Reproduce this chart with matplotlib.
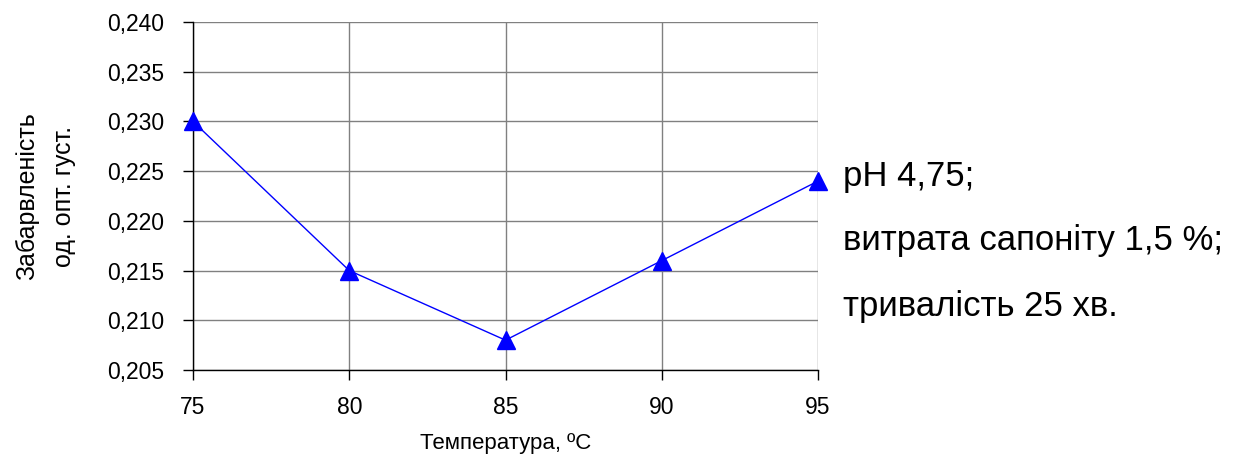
import matplotlib.pyplot as plt
from matplotlib.ticker import FuncFormatter

# дані
temperatura = [75, 80, 85, 90, 95]
zabarvlenist = [0.230, 0.215, 0.208, 0.216, 0.224]
umovy = ["pH 4,75;", "витрата сапоніту 1,5 %;", "тривалість 25 хв."]

plt.rcParams['font.family'] = ['Liberation Sans', 'DejaVu Sans']

fig = plt.figure(figsize=(12.53, 4.66), dpi=100)
ax = fig.add_axes([193/1253, 96/466, 625/1253, 348/466])

ax.plot(temperatura, zabarvlenist, color="blue", linewidth=1,
        marker="^", markersize=13, clip_on=False, zorder=5)

ax.set_xlim(75, 95)
ax.set_ylim(0.205, 0.240)
ax.set_xticks([75, 80, 85, 90, 95])
ax.set_yticks([0.205, 0.210, 0.215, 0.220, 0.225, 0.230, 0.235, 0.240])
ax.yaxis.set_major_formatter(FuncFormatter(lambda v, p: f"{v:.3f}".replace(".", ",")))

# сітка
ax.grid(color="#808080", linewidth=1)
ax.set_axisbelow(True)
for s in ["top", "right"]:
    ax.spines[s].set_visible(False)
for s in ["left", "bottom"]:
    ax.spines[s].set_color("black")
    ax.spines[s].set_linewidth(1)
ax.tick_params(axis="both", direction="out", length=7, width=1, labelsize=16.5)
ax.tick_params(axis="y", pad=14)
ax.tick_params(axis="x", pad=12)

ax.set_xlabel("Температура, ºС", fontsize=16, labelpad=10)
ax.set_ylabel("Забарвленість\nод. опт. густ.", fontsize=18, labelpad=22, linespacing=1.7)

# умови досліду
y_pos = [1 - 186/466, 1 - 250/466, 1 - 316/466]
for t, y in zip(umovy, y_pos):
    fig.text(843/1253, y, t, fontsize=25, va="baseline", ha="left")

fig.savefig("out.png", dpi=100)
